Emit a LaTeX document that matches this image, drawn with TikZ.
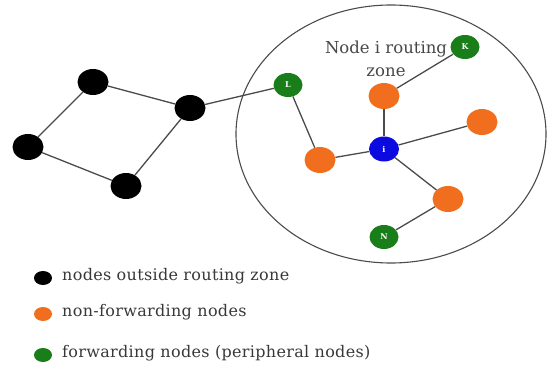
\documentclass[tikz,border=0pt]{standalone}
\usepackage{fontspec}
\setmainfont{DejaVu Serif}
\usetikzlibrary{shapes.geometric}
\definecolor{nodeorange}{RGB}{240,110,30}
\definecolor{nodegreen}{RGB}{25,125,25}
\definecolor{nodeblue}{RGB}{10,10,225}
\definecolor{linkgray}{RGB}{75,75,75}
\tikzset{
  dot/.style={ellipse, minimum width=31pt, minimum height=26pt, inner sep=0pt,
    text=white, font=\fontsize{8}{9}\selectfont\bfseries},
  outside/.style={dot, fill=black},
  nonfwd/.style={dot, fill=nodeorange},
  fwd/.style={dot, fill=nodegreen, minimum width=29pt, minimum height=24pt},
  center/.style={dot, fill=nodeblue, minimum width=30pt, minimum height=25pt},
  link/.style={draw=linkgray, line width=1.3pt},
  keydot/.style={ellipse, minimum width=18pt, minimum height=14pt, inner sep=0pt},
  keytext/.style={anchor=west, inner sep=0pt, font=\fontsize{16}{19}\selectfont\addfontfeature{LetterSpace=2}, text=black!78}
}
\begin{document}
\begin{tikzpicture}[x=1pt,y=-1pt]
\useasboundingbox (0,0) rectangle (548,369);

% routing zone of node i
\draw[linkgray, line width=1.1pt] (391,134) ellipse [x radius=155, y radius=129];
\node[align=center, font=\fontsize{16.5}{23}\selectfont, text=black!72, inner sep=0pt] (zone) at (386,59) {Node i routing\\zone};

% nodes outside the zone
\node[outside] (a) at (93,82) {};
\node[outside] (b) at (190,108) {};
\node[outside] (c) at (28,147) {};
\node[outside] (d) at (126,186) {};

% nodes inside the zone
\node[fwd] (K) at (465,47) {K};
\node[fwd] (L) at (288,85) {L};
\node[fwd] (N) at (384,237) {N};
\node[nonfwd] (o1) at (384,96) {};
\node[nonfwd] (o2) at (482,122) {};
\node[nonfwd] (o3) at (320,160) {};
\node[nonfwd] (o4) at (448,199) {};
\node[center] (i) at (384,149) {i};

% links
\draw[link] (a) -- (b);
\draw[link] (a) -- (c);
\draw[link] (c) -- (d);
\draw[link] (d) -- (b);
\draw[link] (b) -- (L);
\draw[link] (L) -- (o3);
\draw[link] (o3) -- (i);
\draw[link] (i) -- (o1);
\draw[link] (o1) -- (K);
\draw[link] (i) -- (o2);
\draw[link] (i) -- (o4);
\draw[link] (o4) -- (N);

% legend
\node[keydot, fill=black] (k1) at (43,278) {};
\node[keydot, fill=nodeorange] (k2) at (43,314) {};
\node[keydot, fill=nodegreen] (k3) at (43,355) {};
\node[keytext] (t1) at (62,276) {nodes outside routing zone};
\node[keytext] (t2) at (62,312) {non-forwarding nodes};
\node[keytext] (t3) at (62,353) {forwarding nodes (peripheral nodes)};
\end{tikzpicture}
\end{document}
